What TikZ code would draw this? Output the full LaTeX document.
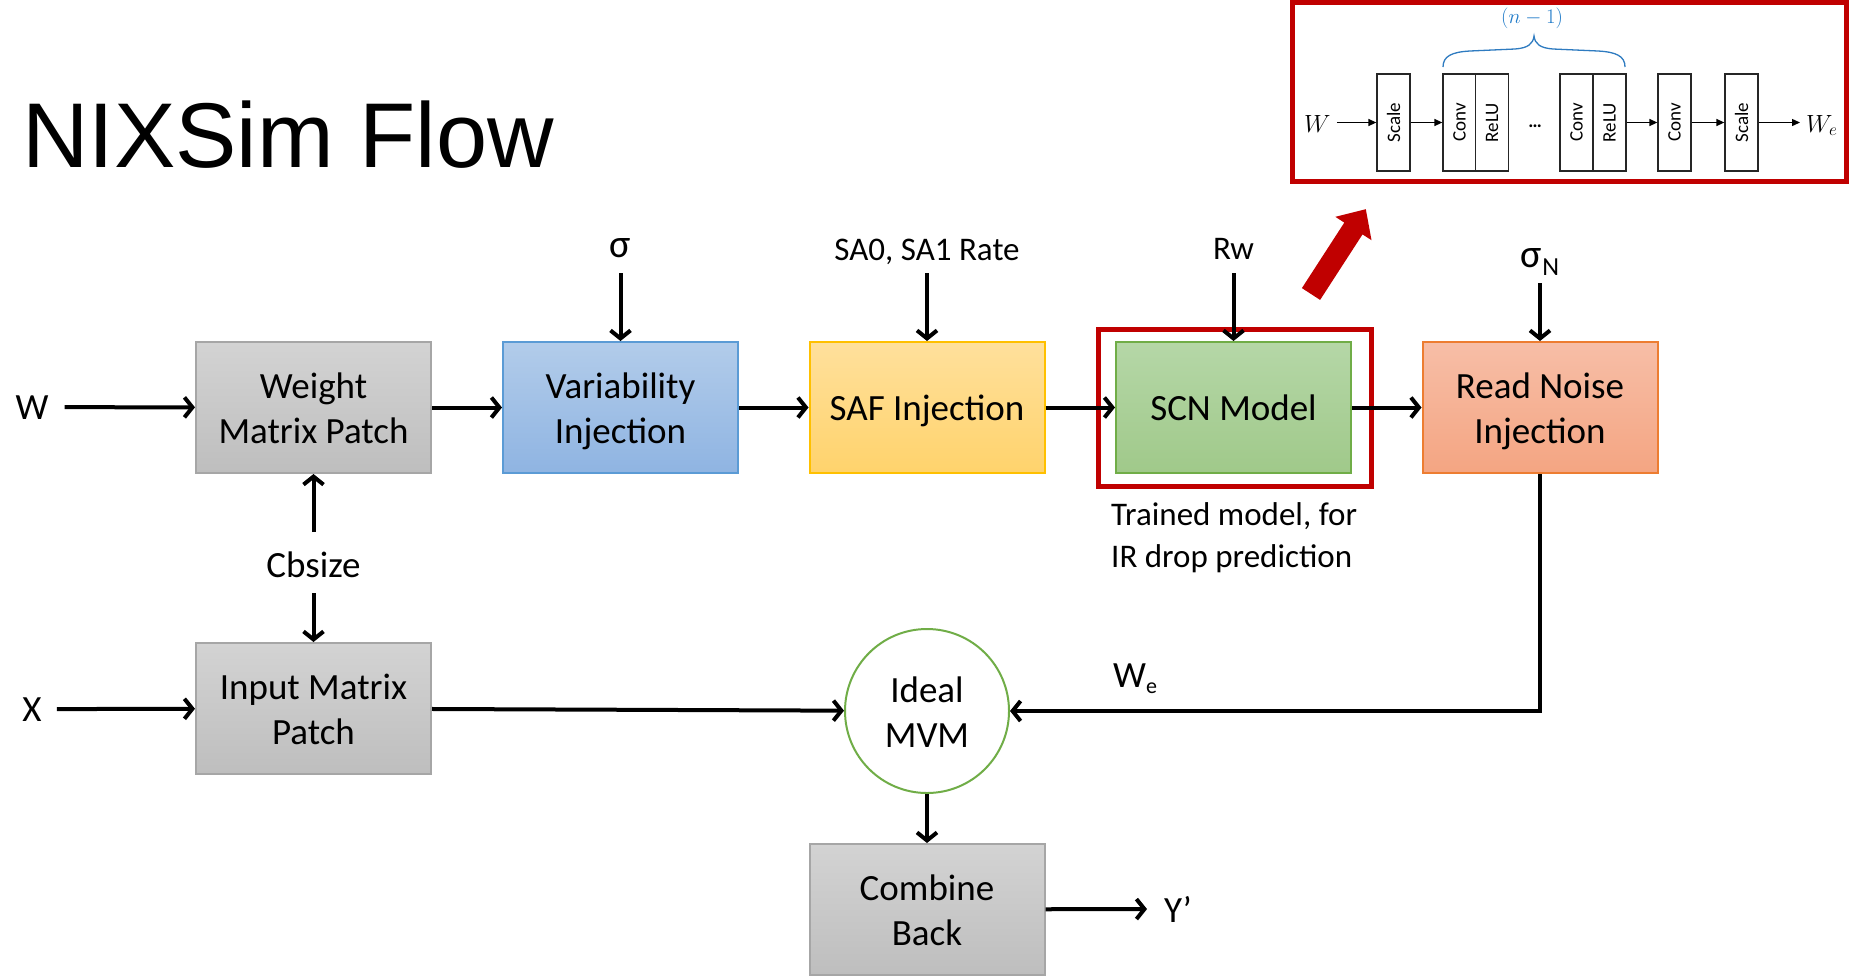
\documentclass[tikz,border=0pt]{standalone}
\usepackage{fontspec}
\setmainfont{Carlito}
\newfontfamily\arialf{Liberation Sans}
\usetikzlibrary{arrows.meta,shapes.geometric,calc}
\newcommand\fsz[2]{\fontsize{#1pt}{#2pt}\selectfont}
\definecolor{gborder}{HTML}{A6A6A6}
\definecolor{gtop}{HTML}{D3D3D3}
\definecolor{gbot}{HTML}{BEBEBE}
\definecolor{bborder}{HTML}{5B9BD5}
\definecolor{btop}{HTML}{B2CCEA}
\definecolor{bbot}{HTML}{8FB4E2}
\definecolor{yborder}{HTML}{FFC000}
\definecolor{ytop}{HTML}{FFE09C}
\definecolor{ybot}{HTML}{FFD36C}
\definecolor{grborder}{HTML}{70AD47}
\definecolor{grtop}{HTML}{B5D7A7}
\definecolor{grbot}{HTML}{A0C98A}
\definecolor{oborder}{HTML}{ED7D31}
\definecolor{otop}{HTML}{F7BEA7}
\definecolor{obot}{HTML}{F4A582}
\definecolor{dred}{HTML}{C00000}
\definecolor{inblue}{HTML}{1F7AC8}
\definecolor{brblue}{HTML}{2E7BC0}
\begin{document}
\begin{tikzpicture}[x=1pt,y=-1pt,
  bx/.style={line width=2pt, minimum width=235pt, minimum height=131pt, inner sep=0pt, align=center, font=\fsz{37}{45}},
  one/.style={text height=30pt, text depth=5pt},
  two/.style={text height=71pt, text depth=0pt},
  gbox/.style={bx, draw=gborder, top color=gtop, bottom color=gbot},
  bbox/.style={bx, draw=bborder, top color=btop, bottom color=bbot},
  ybox/.style={bx, draw=yborder, top color=ytop, bottom color=ybot},
  grbox/.style={bx, draw=grborder, top color=grtop, bottom color=grbot},
  obox/.style={bx, draw=oborder, top color=otop, bottom color=obot},
  arr/.style={line width=4pt, -{Straight Barb[length=8pt,width=20pt]}},
  lbl/.style={inner sep=0pt, text depth=0pt, font=\fsz{37}{45}},
  ibox/.style={draw=black!85, line width=1.3pt, fill=white, minimum width=33pt, minimum height=97pt, inner sep=0pt, font=\fsz{19}{19}},
  iarr/.style={line width=1.3pt, -{Triangle[length=8pt,width=7pt]}}]
\useasboundingbox (0,0) rectangle (1851,978);

% title
\node[anchor=base west, inner sep=0pt, font=\arialf\fsz{92}{92}] (title) at (22,167) {NIXSim Flow};

% main blocks
\node[gbox, two] (wmp) at (313.5,407.5) {Weight\\Matrix Patch};
\node[bbox, two] (vi) at (620.5,407.5) {Variability\\Injection};
\node[ybox, one] (saf) at (927,407.5) {SAF Injection};
\node[grbox, one] (scn) at (1233.5,407.5) {SCN Model};
\node[obox, two] (rni) at (1540,407.5) {Read Noise\\Injection};
\node[draw=dred, line width=5pt, minimum width=273pt, minimum height=157pt, inner sep=0pt] (frame) at (1234.5,407.5) {};
\node[gbox, two] (imp) at (313.5,708.5) {Input Matrix\\Patch};
\node[circle, draw=grborder, line width=2pt, fill=white, minimum size=164pt, inner sep=0pt, align=center, font=\fsz{37}{45}, text height=72pt, text depth=0pt] (mvm) at (927,711) {Ideal\\MVM};
\node[gbox, two] (cb) at (927,909.5) {Combine\\Back};

% labels
\node[lbl, anchor=base] (lw) at (32,419) {W};
\node[lbl, anchor=base] (lx) at (32,721) {X};
\node[lbl, anchor=base, font=\fsz{40}{40}] (lsig) at (620.5,257) {σ};
\node[lbl, anchor=base, font=\fsz{33}{40}] (lsaf) at (927,260) {SA0, SA1 Rate};
\node[lbl, anchor=base, font=\fsz{33}{40}] (lrw) at (1233.5,259) {Rw};
\node[lbl, anchor=base] (lsn) at (1540,267) {\fsz{40}{40}σ\raisebox{-8pt}{\fsz{26}{26}N}};
\node[lbl, anchor=base] (lcb) at (313.5,577) {Cbsize};
\node[inner sep=0pt, anchor=base west, align=left, font=\fsz{33}{42}] (ltr) at (1111,567) {Trained model, for\\IR drop prediction};
\node[lbl, anchor=base west] (lwe) at (1113,687) {W\raisebox{-6pt}{\fsz{22}{22}e}};
\node[lbl, anchor=base west] (ly) at (1164,922) {Y’};

% connectors
\draw[arr, shorten <=16pt] (lw) -- (wmp);
\draw[arr, shorten <=15pt] (lx) -- (imp);
\draw[arr] (wmp) -- (vi);
\draw[arr] (vi) -- (saf);
\draw[arr] (saf) -- (scn);
\draw[arr] (scn) -- (rni);
\draw[arr, shorten <=16pt] (lsig) -- (vi);
\draw[arr, shorten <=13pt] (lsaf) -- (saf);
\draw[arr, shorten <=14pt] (lrw) -- (scn);
\draw[arr, shorten <=16pt] (lsn) -- (rni);
\draw[arr, shorten <=19pt] (lcb) -- (wmp);
\draw[arr, shorten <=16pt] (lcb) -- (imp);
\draw[arr] (imp) -- (mvm);
\draw[arr] (rni) |- (mvm);
\draw[arr] (mvm) -- (cb);
\draw[arr, shorten >=17pt] (cb) -- (ly);

% red pointer arrow
\fill[dred] (1301.9,288.1) -- (1344.3,222.6) -- (1335.3,216.8) -- (1365.8,209.2) -- (1371.5,240.2) -- (1362.5,234.4) -- (1320.1,299.9) -- cycle;

% inset
\node[draw=dred, line width=5pt, minimum width=554pt, minimum height=179pt, inner sep=0pt] (inset) at (1569,91.5) {};
\node[ibox] (s1) at (1393.5,122.5) {\rotatebox{90}{Scale}};
\node[ibox] (c1) at (1459.5,122.5) {\rotatebox{90}{Conv}};
\node[ibox] (r1) at (1492,122.5) {\rotatebox{90}{ReLU}};
\node[anchor=base, inner sep=0pt, font=\fsz{19}{19}\bfseries] (dots) at (1535,127) {…};
\node[ibox] (c2) at (1576.5,122.5) {\rotatebox{90}{Conv}};
\node[ibox] (r2) at (1609.5,122.5) {\rotatebox{90}{ReLU}};
\node[ibox] (c3) at (1674.5,122.5) {\rotatebox{90}{Conv}};
\node[ibox] (s2) at (1741.5,122.5) {\rotatebox{90}{Scale}};
\node[anchor=base west, inner sep=0pt, font=\fsz{25}{25}] (iw) at (1304,132) {$W$};
\node[anchor=base west, inner sep=0pt, font=\fsz{25}{25}] (iwe) at (1806,132) {$W_e$};
\node[inner sep=0pt, text=inblue, font=\fsz{20}{20}] (nm) at (1532,18) {$(n-1)$};
\draw[iarr, shorten <=6pt] (iw.east |- s1) -- (s1.west);
\draw[iarr] (s1) -- (c1);
\draw[iarr] (r2) -- (c3);
\draw[iarr] (c3) -- (s2);
\draw[iarr, shorten >=6pt] (s2.east) -- (s2.east -| iwe.west);
\draw[brblue, line width=1.3pt] (1443,67) .. controls (1443,56) and (1452,52) .. (1470,51) -- (1515,49) .. controls (1528,48) and (1533,44) .. (1534,36) .. controls (1535,44) and (1540,48) .. (1553,49) -- (1598,51) .. controls (1616,52) and (1625,56) .. (1625,67);
\end{tikzpicture}
\end{document}
